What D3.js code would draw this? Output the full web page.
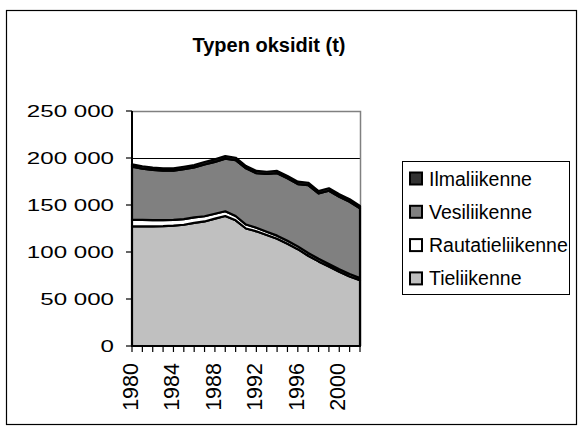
<!DOCTYPE html>
<html><head><meta charset="utf-8">
<script src="https://cdn.jsdelivr.net/npm/d3@7"></script>
<style>html,body{margin:0;padding:0;background:#fff;}svg{display:block;}</style>
</head><body>
<svg id="chart" width="583" height="432"></svg>
<script>
const years = [1980,1981,1982,1983,1984,1985,1986,1987,1988,1989,1990,1991,1992,1993,1994,1995,1996,1997,1998,1999,2000,2001,2002];
const tieliikenne = [127300,127300,127300,127500,128000,129000,131000,132500,135500,138300,133700,125000,122000,118000,114000,108700,103000,96000,90000,84500,79000,74000,70000];
const rautatieliikenne = [7000,6800,6600,6400,6200,6000,5800,5500,5200,5000,4600,4200,3800,3600,3400,3200,3000,3000,2800,2800,2600,2500,2400];
const vesiliikenne = [56500,54600,53400,52700,52400,53200,53200,55100,55200,56000,59400,59800,58000,61400,66400,66500,66300,72200,69500,77900,77200,77000,74000];
const ilmaliikenne = [2500,2500,2400,2400,2400,2500,2500,2600,2700,2700,2600,2500,2400,2400,2400,2500,2500,2500,2600,2600,2600,2600,2600];
const seriesNames = ["Tieliikenne","Rautatieliikenne","Vesiliikenne","Ilmaliikenne"];
const seriesColors = ["#c0c0c0","#ffffff","#808080","#333333"];
const yTicks = [0,50000,100000,150000,200000,250000];
const yTickLabels = ["0","50 000","100 000","150 000","200 000","250 000"];
const xLabelYears = [1980,1984,1988,1992,1996,2000];
const title = "Typen oksidit (t)";

const svg = d3.select("#chart");
const font = "'Liberation Sans', Arial, sans-serif";

// outer border
svg.append("rect").attr("x",6.5).attr("y",10.5).attr("width",570).attr("height",414)
  .attr("fill","#fff").attr("stroke","#000").attr("stroke-width",1.2);

// title
svg.append("text").attr("x",269).attr("y",52).attr("text-anchor","middle")
  .attr("font-family",font).attr("font-weight","bold").attr("font-size",20).text(title);

const x = d3.scalePoint().domain(years).range([132,360]);
const y = d3.scaleLinear().domain([0,250000]).range([346,111]);

// gridlines
svg.append("g").selectAll("line").data(yTicks.filter(v=>v>0 && v<250000)).join("line")
  .attr("x1",132).attr("x2",360).attr("y1",d=>Math.round(y(d))+0.5).attr("y2",d=>Math.round(y(d))+0.5)
  .attr("stroke","#000").attr("stroke-width",1);
// plot area border (top/right)
svg.append("path").attr("d",`M132,${y(250000)+0.5}H360.5V346`).attr("fill","none").attr("stroke","#808080").attr("stroke-width",1.5);

// stacked data
const table = years.map((yr,i)=>({year:yr, Tieliikenne:tieliikenne[i], Rautatieliikenne:rautatieliikenne[i], Vesiliikenne:vesiliikenne[i], Ilmaliikenne:ilmaliikenne[i]}));
const stack = d3.stack().keys(seriesNames)(table);
const area = d3.area().x(d=>x(d.data.year)).y0(d=>y(d[0])).y1(d=>y(d[1]));
svg.append("g").selectAll("path").data(stack).join("path")
  .attr("d",area).attr("fill",(d,i)=>seriesColors[i]).attr("stroke","#000").attr("stroke-width",2.2)
  .attr("stroke-linejoin","round");

// y axis
const yAxis = svg.append("g");
yAxis.append("line").attr("x1",132).attr("x2",132).attr("y1",111).attr("y2",347).attr("stroke","#000").attr("stroke-width",2);
yAxis.selectAll("line.t").data(yTicks).join("line").attr("class","t")
  .attr("x1",126).attr("x2",132).attr("y1",d=>y(d)).attr("y2",d=>y(d)).attr("stroke","#000").attr("stroke-width",1.2);
yAxis.selectAll("text").data(yTicks).join("text")
  .attr("transform",d=>`translate(114,${y(d)+6}) scale(1.42,1)`)
  .attr("text-anchor","end").attr("font-family",font).attr("font-size",17)
  .text((d,i)=>yTickLabels[i]);

// x axis
const xAxis = svg.append("g");
xAxis.append("line").attr("x1",131).attr("x2",361).attr("y1",346).attr("y2",346).attr("stroke","#000").attr("stroke-width",1.5);
xAxis.selectAll("line.t").data(years).join("line").attr("class","t")
  .attr("x1",d=>x(d)).attr("x2",d=>x(d)).attr("y1",346).attr("y2",352).attr("stroke","#000").attr("stroke-width",1.2);
xAxis.selectAll("text").data(xLabelYears).join("text")
  .attr("transform",d=>`translate(${x(d)+6},363) rotate(-90)`)
  .attr("text-anchor","end").attr("font-family",font).attr("font-size",21.5)
  .text(d=>d);

// legend
const lg = svg.append("g");
lg.append("rect").attr("x",402.5).attr("y",161.5).attr("width",167).attr("height",133)
  .attr("fill","#fff").attr("stroke","#000").attr("stroke-width",1);
const legendOrder = [3,2,1,0];
legendOrder.forEach((si,k)=>{
  const cy = 178.5 + k*33.3;
  lg.append("rect").attr("x",410).attr("y",cy-6).attr("width",12).attr("height",12)
    .attr("fill",seriesColors[si]).attr("stroke","#000").attr("stroke-width",2);
  lg.append("text").attr("x",429).attr("y",cy+7).attr("font-family",font).attr("font-size",19.5)
    .text(seriesNames[si]);
});
</script>
</body></html>
